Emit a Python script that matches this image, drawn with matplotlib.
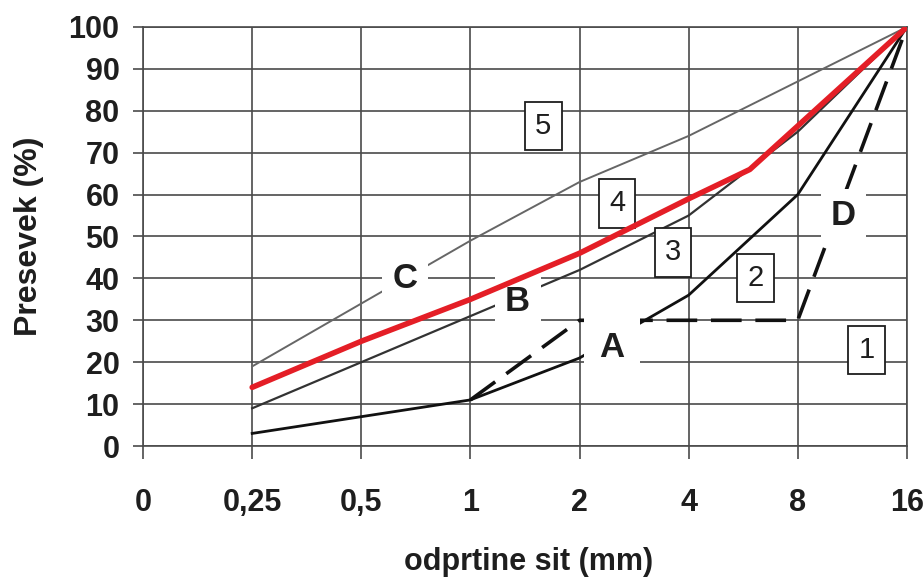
import matplotlib
matplotlib.use("Agg")
import matplotlib.pyplot as plt

plt.rcParams["font.family"] = ["Liberation Sans", "DejaVu Sans"]

# sieve openings (mm) and passing (%)
sieve = [0.25, 0.5, 1, 2, 4, 8, 16]
curve_a = [3, 7, 11, 21, 36, 60, 100]
curve_b = [9, 20, 31, 42, 55, 75, 100]
curve_c = [19, 34, 49, 63, 74, 87, 100]
d_sieve = [1, 2, 8, 16]
curve_d = [11, 30, 30, 100]
red_sieve = [0.25, 0.5, 1, 2, 4, 5.9, 16]
red_curve = [14, 25, 35, 46, 59, 66, 100]

tick_pos = [0.125, 0.25, 0.5, 1, 2, 4, 8, 16]
tick_lab = ["0", "0,25", "0,5", "1", "2", "4", "8", "16"]

letters = ["C", "B", "A", "D"]
letter_x = [0.66, 1.35, 2.46, 10.7]
letter_y = [40, 34.5, 23.5, 55]

zones = ["5", "4", "3", "2", "1"]
zone_x = [1.59, 2.54, 3.62, 6.13, 12.4]
zone_y = [76.3, 57.9, 46.2, 40.1, 22.9]

fig = plt.figure(figsize=(9.23, 5.79), dpi=100)
ax = fig.add_axes([0.155, 0.2297, 0.8275, 0.7237])

ax.set_xscale("log", base=2)
ax.set_xlim(0.125, 16)
ax.set_ylim(0, 100)
ax.set_xticks(tick_pos)
ax.set_xticklabels(tick_lab)
ax.minorticks_off()
ax.set_yticks(range(0, 101, 10))

gc = "#4a4a4a"
ax.grid(True, color=gc, linewidth=1.2)
ax.set_axisbelow(True)
for s in ax.spines.values():
    s.set_color(gc)
    s.set_linewidth(1.2)
ax.tick_params(axis="y", length=7, width=1.2, color=gc, pad=10,
               labelsize=22)
ax.tick_params(axis="x", length=9, width=1.2, color=gc, pad=21,
               labelsize=22)
for t in ax.get_xticklabels() + ax.get_yticklabels():
    t.set_fontweight("bold")
    t.set_color("#1e1e1e")

ax.plot(sieve, curve_c, color="#666666", linewidth=1.4, zorder=3)
ax.plot(sieve, curve_b, color="#333333", linewidth=1.6, zorder=3)
ax.plot(sieve, curve_a, color="#111111", linewidth=2.0, zorder=3)
ax.plot(d_sieve, curve_d, color="#111111", linewidth=2.6, zorder=3,
        dashes=(8.5, 3.8))
ax.plot(red_sieve, red_curve, color="#e41e26", linewidth=4.0, zorder=6,
        solid_capstyle="round")

for t, x, y in zip(letters, letter_x, letter_y):
    pad = 0.45 if t == "A" else 0.3
    ax.text(x, y, t, fontsize=25, fontweight="bold", color="#1e1e1e",
            ha="center", va="center", zorder=5,
            bbox=dict(boxstyle="square,pad=%s" % pad, fc="white", ec="none"))

for t, x, y in zip(zones, zone_x, zone_y):
    ax.text(x, y, t, fontsize=21, color="#1e1e1e", ha="center", va="center",
            zorder=5,
            bbox=dict(boxstyle="square,pad=0.35", fc="white", ec="#1e1e1e",
                      lw=1.3))

ax.set_xlabel("odprtine sit (mm)", fontsize=22, fontweight="bold",
              color="#1e1e1e")
ax.xaxis.set_label_coords(0.505, -0.24)
ax.set_ylabel("Presevek (%)", fontsize=23, fontweight="bold",
              color="#1e1e1e")
ax.yaxis.set_label_coords(-0.13, 0.5)

fig.savefig("out.png", dpi=100)
